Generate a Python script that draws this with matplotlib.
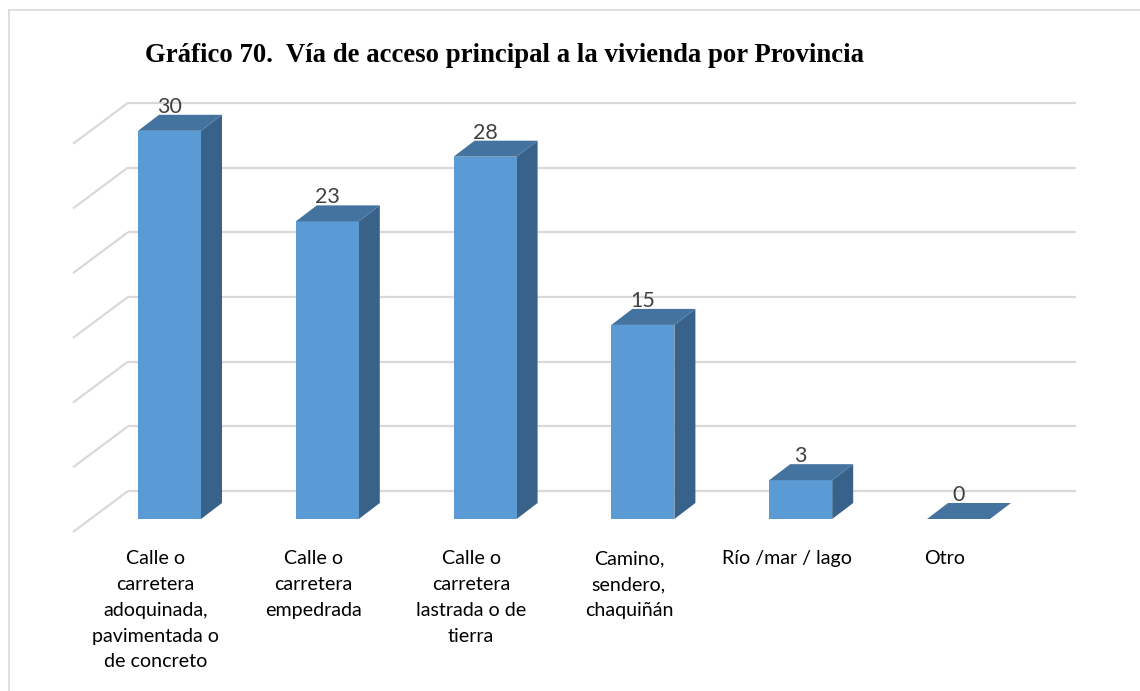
import matplotlib
matplotlib.use("Agg")
import matplotlib.pyplot as plt
from matplotlib.patches import Polygon
from matplotlib.lines import Line2D

# ---- data ----
categories = [
    "Calle o\ncarretera\nadoquinada,\npavimentada o\nde concreto",
    "Calle o\ncarretera\nempedrada",
    "Calle o\ncarretera\nlastrada o de\ntierra",
    "Camino,\nsendero,\nchaquiñán",
    "Río /mar / lago",
    "Otro",
]
values = [30, 23, 28, 15, 3, 0]
grid_ticks = [0, 5, 10, 15, 20, 25, 30]
title = "Gráfico 70.  Vía de acceso principal a la vivienda por Provincia"

# ---- styling ----
FRONT = "#5B9BD5"
TOP = "#44739F"
SIDE = "#38628A"
GRID = "#D9D9D9"
LABEL_COLOR = "#404040"

W, H = 1140, 691
fig = plt.figure(figsize=(W / 100, H / 100), dpi=100)
fig.patch.set_facecolor("white")

# pixel layout of the plot frame
px_left, px_right, py_top, py_bottom = 40, 1110, 80, 545
ax = fig.add_axes([px_left / W, 1 - py_bottom / H,
                   (px_right - px_left) / W, (py_bottom - py_top) / H])
ax.set_axis_off()

# scale: 157.8 px per category, 12.94 px per unit
cat_px, unit_px = 157.8, 12.94
x0_px, y0_px = 169.5, 519.0
ax.set_xlim((px_left - x0_px) / cat_px, (px_right - x0_px) / cat_px)
ax.set_ylim((y0_px - py_bottom) / unit_px, (y0_px - py_top) / unit_px)

bar_w = 63 / cat_px
ddx, ddy = 21 / cat_px, 16 / unit_px          # bar depth projection
wall_dx, wall_dy = 37.6 / cat_px, 28 / unit_px  # back wall offset from bar fronts
floor_dx, floor_dy = -55 / cat_px, -41 / unit_px  # side wall slant
wall_x0 = (128 - x0_px) / cat_px
wall_x1 = (1076 - x0_px) / cat_px

# back wall and side wall gridlines
for t in grid_ticks:
    yb = wall_dy + t
    ax.add_line(Line2D([wall_x0, wall_x1], [yb, yb], color=GRID, lw=1.6,
                       solid_capstyle="butt", zorder=1))
    ax.add_line(Line2D([wall_x0, wall_x0 + floor_dx], [yb, yb + floor_dy],
                       color=GRID, lw=1.6, solid_capstyle="butt", zorder=1))

# 3D-style bars
for i, v in enumerate(values):
    xl, xr = i - bar_w / 2, i + bar_w / 2
    if v > 0:
        ax.add_patch(Polygon([(xr, 0), (xr + ddx, ddy), (xr + ddx, v + ddy), (xr, v)],
                             closed=True, fc=SIDE, ec="none", zorder=3))
        ax.add_patch(Polygon([(xl, 0), (xr, 0), (xr, v), (xl, v)],
                             closed=True, fc=FRONT, ec="none", zorder=3))
    ax.add_patch(Polygon([(xl, v), (xr, v), (xr + ddx, v + ddy), (xl + ddx, v + ddy)],
                         closed=True, fc=TOP, ec="none", zorder=4))
    ax.text(i, v + ddy + 0.15, f"{v}", ha="center", va="baseline",
            fontsize=15.5, family="Lato", color=LABEL_COLOR, zorder=5)

# category labels under the floor front edge
lab_shift = -14 / cat_px
for i, c in enumerate(categories):
    ax.text(i + lab_shift, -2.4, c, ha="center", va="top", fontsize=14.1,
            family="Lato", color="black", linespacing=1.63,
            transform=ax.transData, clip_on=False)

# title
fig.text(504.5 / W, 1 - 61.5 / H, title, ha="center", va="baseline",
         fontsize=19.3, fontweight="bold", family="Liberation Serif", color="black")

# outer frame (top and left edges)
fig.add_artist(Line2D([9 / W, 9 / W], [0, 1 - 10 / H], color=GRID, lw=1.2,
                      transform=fig.transFigure))
fig.add_artist(Line2D([9 / W, 1], [1 - 10 / H, 1 - 10 / H], color=GRID, lw=1.2,
                      transform=fig.transFigure))

fig.savefig("out.png", dpi=100, facecolor="white")
